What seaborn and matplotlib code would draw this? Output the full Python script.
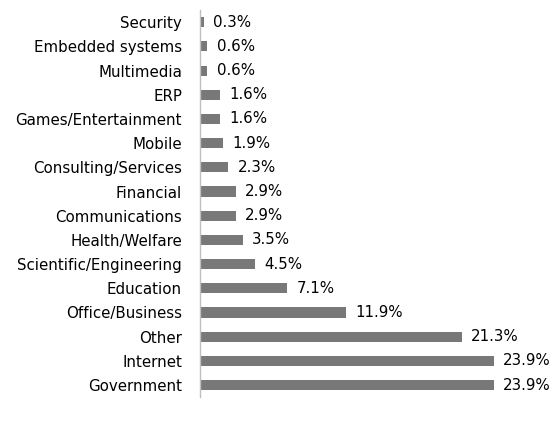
import matplotlib
matplotlib.use("Agg")
import matplotlib.pyplot as plt
import seaborn as sns
import pandas as pd

# Data (top to bottom)
categories = ["Security", "Embedded systems", "Multimedia", "ERP", "Games/Entertainment",
              "Mobile", "Consulting/Services", "Financial", "Communications", "Health/Welfare",
              "Scientific/Engineering", "Education", "Office/Business", "Other", "Internet",
              "Government"]
percent = [0.3, 0.6, 0.6, 1.6, 1.6, 1.9, 2.3, 2.9, 2.9, 3.5, 4.5, 7.1, 11.9, 21.3, 23.9, 23.9]

df = pd.DataFrame({"category": categories, "percent": percent})

sns.set_style("white")
plt.rcParams['font.family'] = ['DejaVu Sans']

fig = plt.figure(figsize=(5.58, 4.22), dpi=100)
ax = fig.add_axes([0.3584, 0.059, 0.5511, 0.917])

sns.barplot(data=df, x="percent", y="category", color="#787878", width=0.42,
            saturation=1, linewidth=0, ax=ax)

# value labels at the end of each bar
for i, v in enumerate(percent):
    ax.text(v + 0.75, i, f"{v:.1f}%", va="center", ha="left", fontsize=10.8, color="#000000")

ax.set_xlim(0, 25)
ax.set_ylim(len(categories) - 0.5, -0.5)
ax.set_xlabel("")
ax.set_ylabel("")
ax.set_xticks([])
ax.tick_params(axis="y", length=0, pad=13, labelsize=10.8, labelcolor="#000000")
for side in ["top", "right", "bottom"]:
    ax.spines[side].set_visible(False)
ax.spines["left"].set_color("#bfbfbf")
ax.spines["left"].set_linewidth(1)

fig.savefig("out.png", dpi=100)
